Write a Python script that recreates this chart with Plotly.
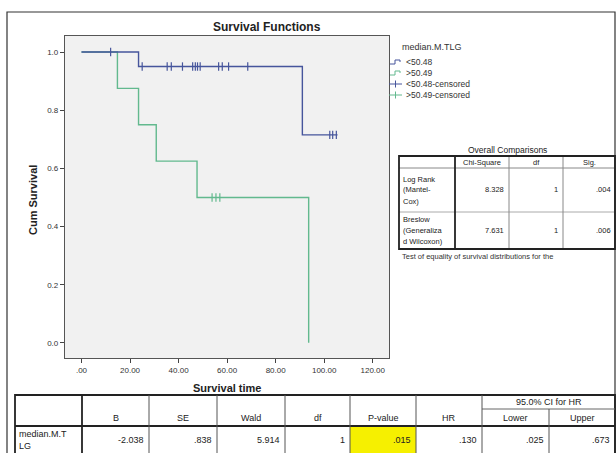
import plotly.graph_objects as go

W, H = 616, 453

# Kaplan-Meier estimates for median.M.TLG groups
blue_label = "<50.48"
green_label = ">50.49"
blue_event_times = [23.5, 91.0]
blue_surv = [0.95, 0.715]
blue_censored = [12.0, 25.0, 35.3, 37.0, 41.6, 45.8, 46.9, 47.8, 48.9,
                 56.5, 58.0, 60.6, 68.5, 102.3, 103.5, 105.0]
blue_last_time = 105.5
green_event_times = [14.8, 23.5, 30.8, 47.6, 93.6]
green_surv = [0.875, 0.75, 0.625, 0.5, 0.0]
green_censored = [53.8, 55.4, 57.0]
green_last_time = 93.6

x_ticks = [0, 20, 40, 60, 80, 100, 120]
x_tick_text = [".00", "20.00", "40.00", "60.00", "80.00", "100.00", "120.00"]
y_ticks = [0.0, 0.2, 0.4, 0.6, 0.8, 1.0]
y_tick_text = ["0.0", "0.2", "0.4", "0.6", "0.8", "1.0"]

# Overall comparisons table
comp_header = ["", "Chi-Square", "df", "Sig."]
comp_rows = [
    (["Log Rank", "(Mantel-", "Cox)"], "8.328", "1", ".004"),
    (["Breslow", "(Generaliza", "d Wilcoxon)"], "7.631", "1", ".006"),
]
comp_note = "Test of equality of survival distributions for the"

# Cox regression table
cox_header = ["", "B", "SE", "Wald", "df", "P-value", "HR", "Lower", "Upper"]
cox_row_label = ["median.M.T", "LG"]
cox_values = ["-2.038", ".838", "5.914", "1", ".015", ".130", ".025", ".673"]

BLUE = "#46559c"
GREEN = "#62b98e"
INK = "#222222"
FONT = "Liberation Sans"


def px(x):
    return x / W


def py(y):
    return 1 - y / H


def step_points(times, surv, last):
    xs, ys = [0.0], [1.0]
    for t, s in zip(times, surv):
        xs.append(t)
        ys.append(s)
    if last > xs[-1]:
        xs.append(last)
        ys.append(ys[-1])
    return xs, ys


def surv_at(t, times, surv):
    s = 1.0
    for et, es in zip(times, surv):
        if et <= t:
            s = es
    return s


fig = go.Figure()

bx, by = step_points(blue_event_times, blue_surv, blue_last_time)
gx, gy = step_points(green_event_times, green_surv, green_last_time)

fig.add_trace(go.Scatter(x=gx, y=gy, mode="lines", line=dict(color=GREEN, width=1.4, shape="hv"),
                         name=green_label, showlegend=False))
fig.add_trace(go.Scatter(x=bx, y=by, mode="lines", line=dict(color=BLUE, width=1.4, shape="hv"),
                         name=blue_label, showlegend=False))
fig.add_trace(go.Scatter(x=blue_censored,
                         y=[surv_at(t, blue_event_times, blue_surv) for t in blue_censored],
                         mode="markers",
                         marker=dict(symbol="line-ns-open", size=6, color=BLUE,
                                     line=dict(color=BLUE, width=1.2)),
                         showlegend=False))
fig.add_trace(go.Scatter(x=green_censored,
                         y=[surv_at(t, green_event_times, green_surv) for t in green_censored],
                         mode="markers",
                         marker=dict(symbol="line-ns-open", size=6, color=GREEN,
                                     line=dict(color=GREEN, width=1.2)),
                         showlegend=False))

plot_left, plot_right, plot_top, plot_bottom = 65, 389, 36, 358

fig.update_layout(
    width=W, height=H,
    margin=dict(l=0, r=0, t=0, b=0),
    paper_bgcolor="white",
    plot_bgcolor="#f1f1f1",
    font=dict(family=FONT, size=8, color=INK),
    xaxis=dict(domain=[px(plot_left), px(plot_right)], range=[-6.8, 126.7],
               tickvals=x_ticks, ticktext=x_tick_text, ticks="outside", ticklen=4,
               tickcolor="#444", showline=True, linecolor="#555", linewidth=1.2, mirror=True,
               showgrid=False, zeroline=False, tickfont=dict(size=8, color="#333")),
    yaxis=dict(domain=[py(plot_bottom), py(plot_top)], range=[-0.052, 1.055],
               tickvals=y_ticks, ticktext=y_tick_text, ticks="outside", ticklen=4,
               tickcolor="#444", showline=True, linecolor="#555", linewidth=1.2, mirror=True,
               showgrid=False, zeroline=False, tickfont=dict(size=8, color="#333")),
)

shapes = []
ann = []


def text(x, y, s, size=8, anchor="center", bold=False, color=INK, angle=0):
    if bold:
        s = "<b>" + s + "</b>"
    ann.append(dict(x=px(x), y=py(y), xref="paper", yref="paper", text=s, showarrow=False,
                    xanchor=anchor, yanchor="middle", textangle=angle,
                    font=dict(family=FONT, size=size, color=color)))


def hline(x0, x1, y, width=1, color="#444"):
    shapes.append(dict(type="line", xref="paper", yref="paper", x0=px(x0), x1=px(x1),
                       y0=py(y), y1=py(y), line=dict(color=color, width=width)))


def vline(x, y0, y1, width=1, color="#444"):
    shapes.append(dict(type="line", xref="paper", yref="paper", x0=px(x), x1=px(x),
                       y0=py(y0), y1=py(y1), line=dict(color=color, width=width)))


# outer frame
shapes.append(dict(type="rect", xref="paper", yref="paper", x0=px(7), x1=px(615), y0=py(460), y1=py(12),
                   line=dict(color="#333", width=1.2)))

# titles
text(267, 27, "Survival Functions", size=12, bold=True)
text(227, 388, "Survival time", size=11, bold=True)
text(33, 200, "Cum Survival", size=11, bold=True, angle=-90)

# legend
text(400, 47, "median.M.TLG", size=9, anchor="left", color="#333")
legend_items = [(blue_label, BLUE, "step"), (green_label, GREEN, "step"),
                (blue_label + "-censored", BLUE, "cens"), (green_label + "-censored", GREEN, "cens")]
for i, (lab, col, kind) in enumerate(legend_items):
    yc = 62 + 11 * i
    if kind == "step":
        path = (f"M {px(390)},{py(yc + 2)} L {px(395)},{py(yc + 2)} L {px(395)},{py(yc - 2)} "
                f"L {px(400)},{py(yc - 2)} L {px(400)},{py(yc)}")
        shapes.append(dict(type="path", xref="paper", yref="paper", path=path,
                           line=dict(color=col, width=1)))
    else:
        hline(389, 402, yc, width=1, color=col)
        vline(395.5, yc - 3.5, yc + 3.5, width=1, color=col)
    text(404, yc, lab, size=8.5, anchor="left", color="#333")

# overall comparisons table
cc = [399, 455, 509, 563, 615]
ct, chb, cr1, cr2 = 156, 168, 212, 249
text((cc[0] + cc[-1]) / 2, 150, "Overall Comparisons", size=8.5)
for j in range(1, 4):
    text((cc[j] + cc[j + 1]) / 2, (ct + chb) / 2, comp_header[j], size=7.5)
row_bounds = [(chb, cr1), (cr1, cr2)]
for (lines, chi, df, sig), (r0, r1) in zip(comp_rows, row_bounds):
    mid = (r0 + r1) / 2
    for k, ln in enumerate(lines):
        text(cc[0] + 2, mid + (k - 1) * 11, ln, size=7.5, anchor="left")
    text(cc[2] - 3, mid, chi, size=7.5, anchor="right")
    text(cc[3] - 3, mid, df, size=7.5, anchor="right")
    text(cc[4] - 2, mid, sig, size=7.5, anchor="right")
hline(cc[0], cc[-1], chb, width=1, color="#888")
hline(cc[0], cc[-1], cr1, width=1, color="#aaa")
for j in (2, 3):
    vline(cc[j], ct, cr2, width=1, color="#888")
vline(cc[1], ct, cr2, width=1.8, color="#222")
shapes.append(dict(type="rect", xref="paper", yref="paper", x0=px(cc[0]), x1=px(cc[-1]),
                   y0=py(cr2), y1=py(ct), line=dict(color="#222", width=1.8)))
text(cc[0] + 1, 256, comp_note, size=7.5, anchor="left", color="#333")

# cox regression table
xc = [15, 82, 149, 217, 285, 350, 416, 482, 549, 615]
tt, tsplit, thb, tb = 395, 409, 426, 453
shapes.append(dict(type="rect", xref="paper", yref="paper", x0=px(xc[5]), x1=px(xc[6]),
                   y0=py(tb), y1=py(thb), fillcolor="#f6f000", line=dict(width=0), layer="below"))
shapes.append(dict(type="rect", xref="paper", yref="paper", x0=px(xc[0]), x1=px(xc[-1]),
                   y0=py(tb + 3), y1=py(tt), line=dict(color="#222", width=1.8)))
hline(xc[0], xc[-1], thb, width=1.8, color="#222")
hline(xc[7], xc[-1], tsplit, width=1, color="#666")
vline(xc[1], tt, tb + 3, width=1.8, color="#222")
for j in range(2, 9):
    vline(xc[j], tt if j != 8 else tsplit, tb + 3, width=1, color="#555")
text((xc[7] + xc[9]) / 2, 402, "95.0% CI for HR", size=9)
for j in range(1, 9):
    text((xc[j] + xc[j + 1]) / 2, 418, cox_header[j], size=9)
text(xc[0] + 2, 434, cox_row_label[0], size=9, anchor="left")
text(xc[0] + 2, 446, cox_row_label[1], size=9, anchor="left")
for j, v in enumerate(cox_values):
    text(xc[j + 2] - 3, 440, v, size=9, anchor="right")

fig.update_layout(shapes=shapes, annotations=ann)
fig.write_html("out.html")
